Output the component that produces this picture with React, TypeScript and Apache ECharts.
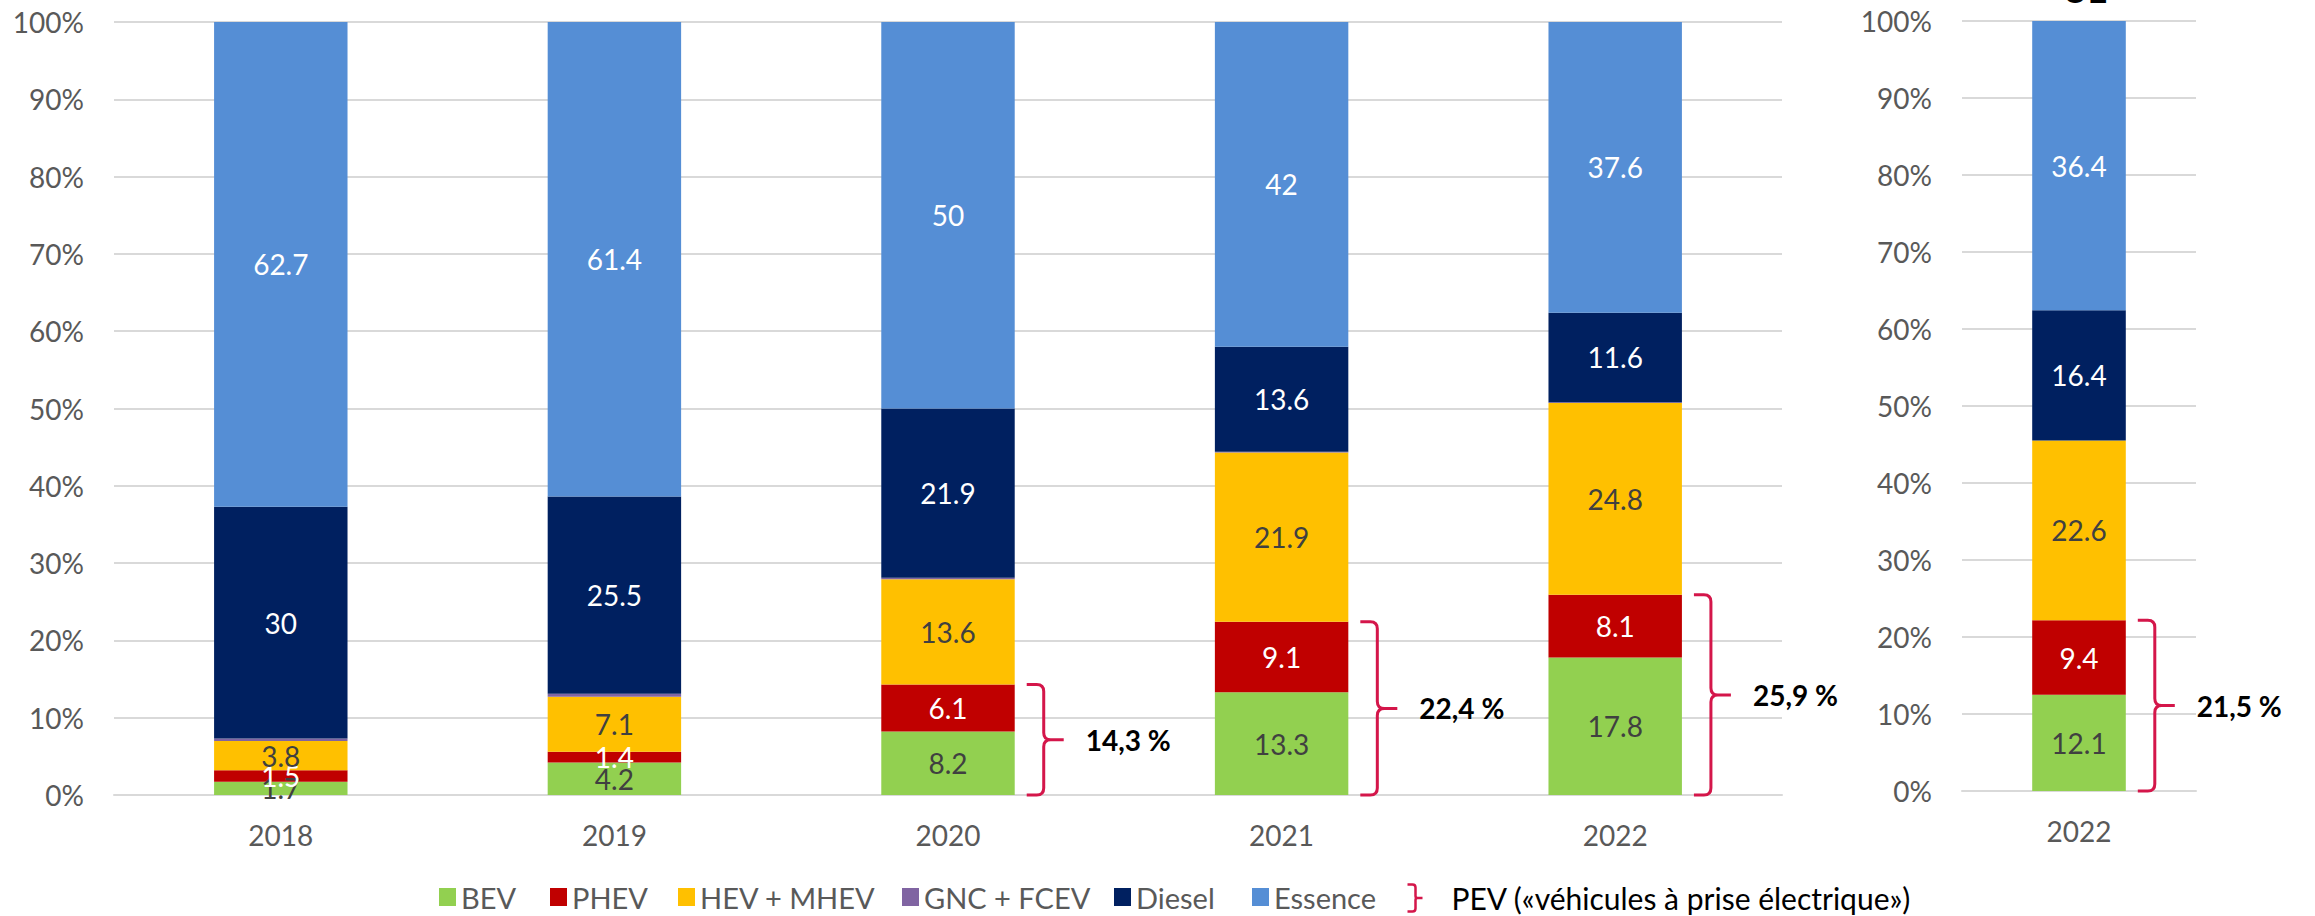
import React, { useEffect, useRef } from 'react';
import * as echarts from 'echarts';

// ---- Data ----
const years = ['2018', '2019', '2020', '2021', '2022'];
const bev = [1.7, 4.2, 8.2, 13.3, 17.8];
const phev = [1.5, 1.4, 6.1, 9.1, 8.1];
const hev = [3.8, 7.1, 13.6, 21.9, 24.8];
const gnc = [0.3, 0.4, 0.2, 0.1, 0.1];
const diesel = [30, 25.5, 21.9, 13.6, 11.6];
const essence = [62.7, 61.4, 50, 42, 37.6];

const ueYears = ['2022'];
const ueBev = [12.1];
const uePhev = [9.4];
const ueHev = [22.6];
const ueGnc = [0];
const ueDiesel = [16.4];
const ueEssence = [36.4];

const pevYearIdx = [2, 3, 4];
const uePevIdx = [0];

const yTicks = [0, 10, 20, 30, 40, 50, 60, 70, 80, 90, 100];

const seriesNames = ['BEV', 'PHEV', 'HEV + MHEV', 'GNC + FCEV', 'Diesel', 'Essence'];
const pevName = 'PEV («véhicules à prise électrique»)';
const ueTitle = 'UE';

// ---- Styles / layout ----
const FONT = 'Lato';
const seriesColors = ['#92D050', '#C00000', '#FFC000', '#8064A2', '#002060', '#558ED5'];
const labelColors = ['#404040', '#FFFFFF', '#404040', '', '#FFFFFF', '#FFFFFF'];
const CRIMSON = '#D4164A';
const AXIS_GREY = '#595959';
const GRID_GREY = '#D9D9D9';
const legendLefts = [439, 550, 678, 902, 1114, 1252];
const LEGEND_TOP = 882;

function normalize(cols: number[][]) {
  const n = cols[0].length;
  const totals = Array.from({ length: n }, (_, i) => cols.reduce((s, c) => s + c[i], 0));
  return cols.map((c) => c.map((v, i) => (v / totals[i]) * 100));
}

function fmtPev(v: number) {
  return v.toFixed(1).replace('.', ',') + ' %';
}

function buildBars(raw: number[][], gridIdx: number, stack: string) {
  const shares = normalize(raw);
  return raw.map((vals, k) => ({
    type: 'bar',
    name: seriesNames[k],
    xAxisIndex: gridIdx,
    yAxisIndex: gridIdx,
    stack,
    barWidth: '40%',
    itemStyle: { color: seriesColors[k] },
    label: {
      show: k !== 3,
      position: 'inside',
      color: labelColors[k] || '#404040',
      fontSize: 28,
      fontFamily: FONT,
      formatter: (p: any) => String(p.data.raw),
    },
    emphasis: { disabled: true },
    data: vals.map((v, i) => ({ value: shares[k][i], raw: v })),
  }));
}

function buildBrace(b: number[], p: number[], raw: number[][], idxs: number[], gridIdx: number) {
  const shares = normalize(raw);
  const labels = idxs.map((i) => fmtPev(b[i] + p[i]));
  return {
    type: 'custom',
    name: pevName,
    xAxisIndex: gridIdx,
    yAxisIndex: gridIdx,
    silent: true,
    z: 5,
    itemStyle: { color: CRIMSON },
    encode: { x: 0, y: 1 },
    data: idxs.map((i) => [i, shares[0][i] + shares[1][i]]),
    renderItem: (params: any, api: any) => {
      const idx = api.value(0);
      const top = api.value(1);
      const base = api.coord([idx, 0]);
      const tp = api.coord([idx, top]);
      const band = api.size([1, 0])[0];
      const x0 = base[0] + band * 0.2 + 12;
      const w = 37;
      const v = 17;
      const r = 7;
      const y0 = tp[1];
      const y1 = base[1];
      const ym = (y0 + y1) / 2;
      const d =
        `M${x0},${y0} L${x0 + v - r},${y0} Q${x0 + v},${y0} ${x0 + v},${y0 + r} ` +
        `L${x0 + v},${ym - r} Q${x0 + v},${ym} ${x0 + v + r},${ym} L${x0 + w},${ym} ` +
        `M${x0 + v + r},${ym} Q${x0 + v},${ym} ${x0 + v},${ym + r} ` +
        `L${x0 + v},${y1 - r} Q${x0 + v},${y1} ${x0 + v - r},${y1} L${x0},${y1}`;
      return {
        type: 'group',
        children: [
          {
            type: 'path',
            shape: { pathData: d },
            style: { fill: 'none', stroke: CRIMSON, lineWidth: 3 },
          },
          {
            type: 'text',
            style: {
              text: labels[params.dataIndex],
              x: x0 + w + 22,
              y: ym,
              verticalAlign: 'middle',
              align: 'left',
              font: `bold 28px ${FONT}`,
              fill: '#000000',
            },
          },
        ],
      };
    },
  };
}

function yAxis(gridIdx: number) {
  return {
    type: 'value',
    gridIndex: gridIdx,
    min: yTicks[0],
    max: yTicks[yTicks.length - 1],
    interval: yTicks[1] - yTicks[0],
    axisLine: { show: false },
    axisTick: { show: false },
    axisLabel: {
      formatter: '{value}%',
      color: AXIS_GREY,
      fontSize: 28,
      fontFamily: FONT,
      margin: 30,
    },
    splitLine: { lineStyle: { color: GRID_GREY, width: 2 } },
  };
}

function xAxis(gridIdx: number, cats: string[]) {
  return {
    type: 'category',
    gridIndex: gridIdx,
    data: cats,
    axisLine: { show: true, lineStyle: { color: GRID_GREY, width: 2 } },
    axisTick: { show: false },
    axisLabel: { color: AXIS_GREY, fontSize: 28, fontFamily: FONT, margin: 26 },
  };
}

const BRACE_ICON =
  'path://M0,0 L5,0 Q8,0 8,3 L8,11.5 Q8,13.5 10,13.5 L15,13.5 M10,13.5 Q8,13.5 8,15.5 L8,24 Q8,27 5,27 L0,27';

export default function App() {
  const ref = useRef<HTMLDivElement>(null);
  useEffect(() => {
    document.body.style.margin = '0';
    if (!ref.current) return;
    const chart = echarts.init(ref.current, undefined, { renderer: 'svg' });
    const leftRaw = [bev, phev, hev, gnc, diesel, essence];
    const rightRaw = [ueBev, uePhev, ueHev, ueGnc, ueDiesel, ueEssence];
    const seriesLegends = seriesNames.map((name, k) => ({
      data: [name],
      left: legendLefts[k],
      top: LEGEND_TOP,
      padding: 0,
      itemWidth: 17,
      itemHeight: 18,
      selectedMode: false,
      icon: 'rect',
      textStyle: { color: AXIS_GREY, fontSize: 29, fontFamily: FONT, lineHeight: 30 },
    }));
    chart.setOption({
      animation: false,
      backgroundColor: '#FFFFFF',
      grid: [
        { left: 114, top: 22, width: 1668, height: 773 },
        { left: 1962, top: 21, width: 234, height: 770 },
      ],
      xAxis: [xAxis(0, years), xAxis(1, ueYears)],
      yAxis: [yAxis(0), yAxis(1)],
      legend: [
        ...seriesLegends,
        {
          data: [
            {
              name: pevName,
              icon: BRACE_ICON,
              itemStyle: { color: 'none', borderColor: CRIMSON, borderWidth: 2.5 },
              textStyle: {
                color: '#000000',
                fontSize: 30,
                fontFamily: FONT,
                lineHeight: 30,
                padding: [0, 0, 0, 24],
              },
            },
          ],
          left: 1405,
          top: LEGEND_TOP,
          padding: 0,
          itemWidth: 15,
          itemHeight: 27,
          selectedMode: false,
        },
      ],
      graphic: [
        {
          type: 'text',
          style: {
            text: ueTitle,
            x: 2085,
            y: -11,
            align: 'center',
            verticalAlign: 'middle',
            font: `bold 34px ${FONT}`,
            fill: '#000000',
          },
        },
      ],
      series: [
        ...buildBars(leftRaw, 0, 'left'),
        ...buildBars(rightRaw, 1, 'right'),
        buildBrace(bev, phev, leftRaw, pevYearIdx, 0),
        buildBrace(ueBev, uePhev, rightRaw, uePevIdx, 1),
      ],
    });
    return () => chart.dispose();
  }, []);
  return <div ref={ref} style={{ width: 2315, height: 916 }} />;
}
